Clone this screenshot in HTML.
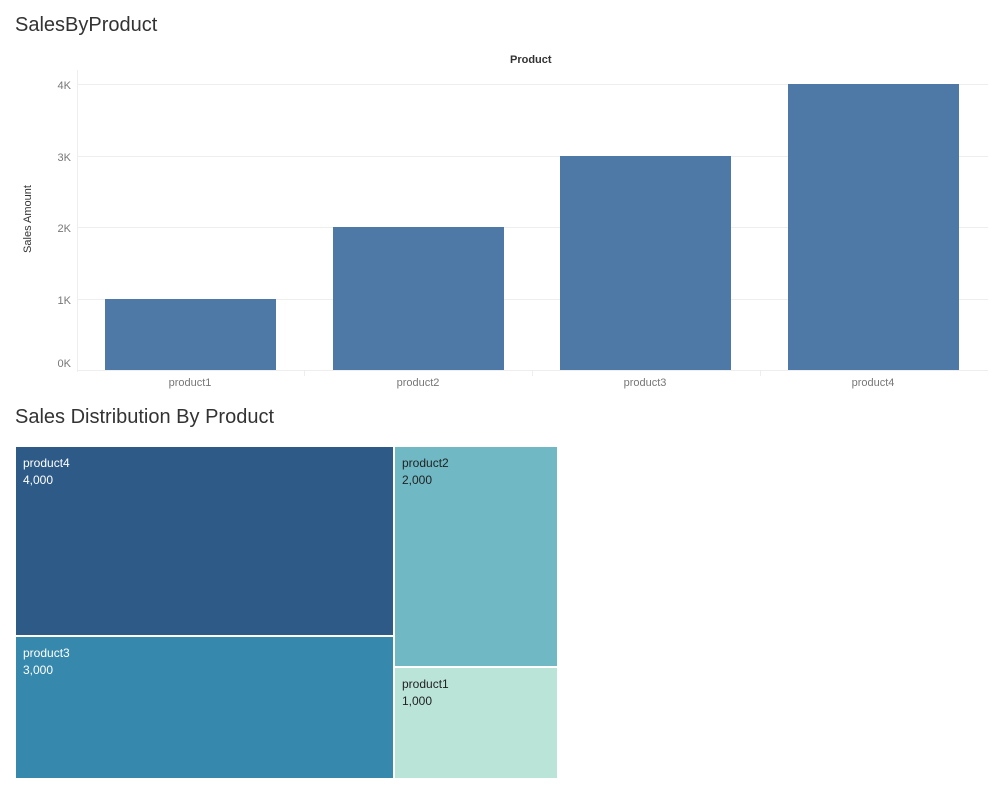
<!DOCTYPE html>
<html><head><style>
body{margin:0;width:998px;height:795px;background:#fff;font-family:"Liberation Sans",sans-serif;position:relative;overflow:hidden}
.a{position:absolute}
.t{font-size:20px;color:#333}
.tk{font-size:11px;color:#777}
.lbl{font-size:12px;line-height:17px}
</style></head><body>
<div class="a t" style="left:15px;top:14px">SalesByProduct</div>
<div class="a" style="left:510px;top:54px;font-size:11px;color:#333;font-weight:bold">Product</div>
<svg class="a" style="left:0;top:0" width="998" height="400">
<g stroke="#eeeeee" stroke-width="1">
<line x1="77" y1="84.5" x2="988" y2="84.5"/>
<line x1="77" y1="156.5" x2="988" y2="156.5"/>
<line x1="77" y1="227.5" x2="988" y2="227.5"/>
<line x1="77" y1="299.5" x2="988" y2="299.5"/>
<line x1="77" y1="370.5" x2="988" y2="370.5"/>
<line x1="77.5" y1="70" x2="77.5" y2="372"/>
<line x1="304.5" y1="370" x2="304.5" y2="376"/>
<line x1="532.5" y1="370" x2="532.5" y2="376"/>
<line x1="760.5" y1="370" x2="760.5" y2="376"/>
</g>
<g fill="#4e79a7">
<rect x="105" y="299" width="171" height="71"/>
<rect x="333" y="227" width="171" height="143"/>
<rect x="560" y="156" width="171" height="214"/>
<rect x="788" y="84" width="171" height="286"/>
</g>
<g font-family="Liberation Sans" font-size="11" fill="#777" text-anchor="end">
<text x="71" y="89">4K</text><text x="71" y="161">3K</text><text x="71" y="232">2K</text><text x="71" y="304">1K</text><text x="71" y="367">0K</text>
</g>
<g font-family="Liberation Sans" font-size="11" fill="#777" text-anchor="middle">
<text x="190" y="386">product1</text><text x="418" y="386">product2</text><text x="645" y="386">product3</text><text x="873" y="386">product4</text>
</g>
<text x="31" y="219" transform="rotate(-90 31 219)" font-family="Liberation Sans" font-size="11" fill="#333" text-anchor="middle">Sales Amount</text>
</svg>
<div class="a t" style="left:15px;top:406px">Sales Distribution By Product</div>
<div class="a" style="left:16px;top:447px;width:377px;height:188px;background:#2e5a87"></div>
<div class="a" style="left:16px;top:637px;width:377px;height:141px;background:#3688ad"></div>
<div class="a" style="left:395px;top:447px;width:162px;height:219px;background:#6fb8c4"></div>
<div class="a" style="left:395px;top:668px;width:162px;height:110px;background:#bbe4d9"></div>
<div class="a lbl" style="left:23px;top:455px;color:#fff">product4<br>4,000</div>
<div class="a lbl" style="left:23px;top:645px;color:#fff">product3<br>3,000</div>
<div class="a lbl" style="left:402px;top:455px;color:#222">product2<br>2,000</div>
<div class="a lbl" style="left:402px;top:676px;color:#222">product1<br>1,000</div>
</body></html>
